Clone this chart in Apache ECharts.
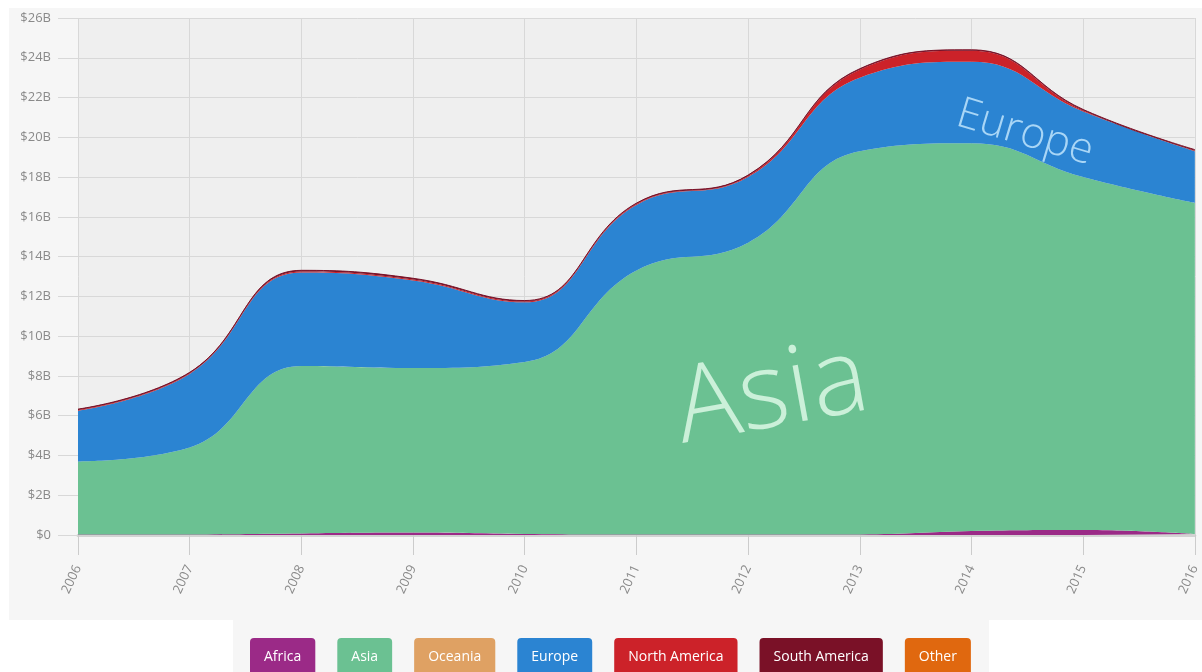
<!DOCTYPE html>
<html>
<head>
<meta charset="utf-8">
<script src="https://cdn.jsdelivr.net/npm/echarts@6/dist/echarts.min.js"></script>
<style>
html, body { margin: 0; padding: 0; background: #fff; }
#wrap { position: relative; width: 1202px; height: 672px; overflow: hidden; }
#panel { position: absolute; left: 9px; top: 8px; width: 1193px; height: 612px; background: #f6f6f6; }
#legendBox { position: absolute; left: 233px; top: 620px; width: 756px; height: 52px; background: #f6f6f6; }
#chart { position: absolute; left: 0; top: 0; width: 1202px; height: 672px; }
</style>
</head>
<body>
<div id="wrap">
	<div id="panel"></div>
	<div id="legendBox"></div>
	<div id="chart"></div>
</div>
<script>
// export value by region, billions of dollars
var years = ['2006', '2007', '2008', '2009', '2010', '2011', '2012', '2013', '2014', '2015', '2016'];
var africa = [0.02, 0.03, 0.08, 0.12, 0.05, 0.02, 0.02, 0.03, 0.2, 0.25, 0.05];
var asia = [3.68, 4.37, 8.42, 8.28, 8.65, 13.28, 14.68, 19.27, 19.5, 17.75, 16.65];
var oceania = [0, 0, 0, 0, 0, 0, 0, 0, 0, 0, 0];
var europe = [2.55, 3.7, 4.7, 4.4, 3.0, 3.3, 3.3, 3.7, 4.1, 3.3, 2.6];
var northAmerica = [0.03, 0.03, 0.05, 0.05, 0.04, 0.04, 0.05, 0.4, 0.55, 0.05, 0.03];
var southAmerica = [0.05, 0.05, 0.06, 0.06, 0.05, 0.05, 0.05, 0.05, 0.05, 0.05, 0.05];
var other = [0, 0, 0, 0, 0, 0, 0, 0, 0, 0, 0];

var regionNames = ['Africa', 'Asia', 'Oceania', 'Europe', 'North America', 'South America', 'Other'];
var regionColors = ['#9b2a87', '#6bc192', '#dfa163', '#2b84d2', '#cc2229', '#7a1127', '#e0680f'];
var regionData = [africa, asia, oceania, europe, northAmerica, southAmerica, other];

var ExportChart = {
	draw : function() {
		var myChart = echarts.init(document.getElementById('chart'));
		var series = [];
		for (var i = 0; i < regionNames.length; i++) {
			series.push({
				name : regionNames[i],
				type : 'line',
				stack : 'total',
				smooth : 0.45,
				symbol : 'none',
				data : regionData[i],
				// only the thin south america band leaves a dark edge on top
				lineStyle : { width : regionNames[i] == 'South America' ? 1 : 0, color : regionColors[i] },
				areaStyle : { color : regionColors[i], opacity : 1 },
				itemStyle : { color : regionColors[i] },
				emphasis : { disabled : true }
			});
		}
		var legendData = [];
		for (var j = 0; j < regionNames.length; j++) {
			legendData.push({
				name : regionNames[j],
				icon : 'none',
				textStyle : {
					color : '#fff',
					backgroundColor : regionColors[j],
					padding : [12, 14, 12, 14],
					borderRadius : [4, 4, 0, 0]
				}
			});
		}
		var option = {
			backgroundColor : 'transparent',
			animation : false,
			grid : {
				left : 78,
				right : 7,
				top : 18,
				bottom : 137,
				show : true,
				backgroundColor : '#efefef',
				borderWidth : 0
			},
			legend : {
				data : legendData,
				top : 633,
				left : 240,
				itemGap : 17,
				itemWidth : 0,
				itemHeight : 0,
				textStyle : { fontFamily : 'Open Sans', fontSize : 14 }
			},
			xAxis : {
				type : 'category',
				boundaryGap : false,
				data : years,
				offset : 5,
				axisLine : { lineStyle : { color : '#d3d3d3', width : 3 } },
				axisTick : { show : true, length : 20, lineStyle : { color : '#cccccc' } },
				splitLine : { show : true, lineStyle : { color : '#d8d8d8' } },
				axisLabel : {
					rotate : 65,
					color : '#8a8a8a',
					fontFamily : 'Open Sans',
					fontSize : 13,
					margin : 26
				}
			},
			yAxis : {
				type : 'value',
				min : 0,
				max : 26,
				interval : 2,
				axisLine : { show : false },
				axisTick : { show : true, length : 20, lineStyle : { color : '#d8d8d8' } },
				splitLine : { lineStyle : { color : '#d8d8d8' } },
				axisLabel : {
					color : '#8a8a8a',
					fontFamily : 'Open Sans',
					fontSize : 13,
					margin : 27,
					formatter : function(v) {
						return v === 0 ? '$0' : '$' + v + 'B';
					}
				}
			},
			graphic : [
				{
					type : 'text',
					x : 772,
					y : 396,
					rotation : 0.18,
					z : 100,
					style : {
						text : 'Asia',
						fill : '#cbf0d9',
						font : '300 106px "Open Sans"',
						textAlign : 'center',
						textVerticalAlign : 'middle'
					}
				},
				{
					type : 'text',
					x : 1025,
					y : 133,
					rotation : -0.29,
					z : 100,
					style : {
						text : 'Europe',
						fill : '#a9d6f6',
						font : '300 43px "Open Sans"',
						textAlign : 'center',
						textVerticalAlign : 'middle'
					}
				}
			],
			series : series
		};
		myChart.setOption(option);
	}
};

ExportChart.draw();
</script>
</body>
</html>
